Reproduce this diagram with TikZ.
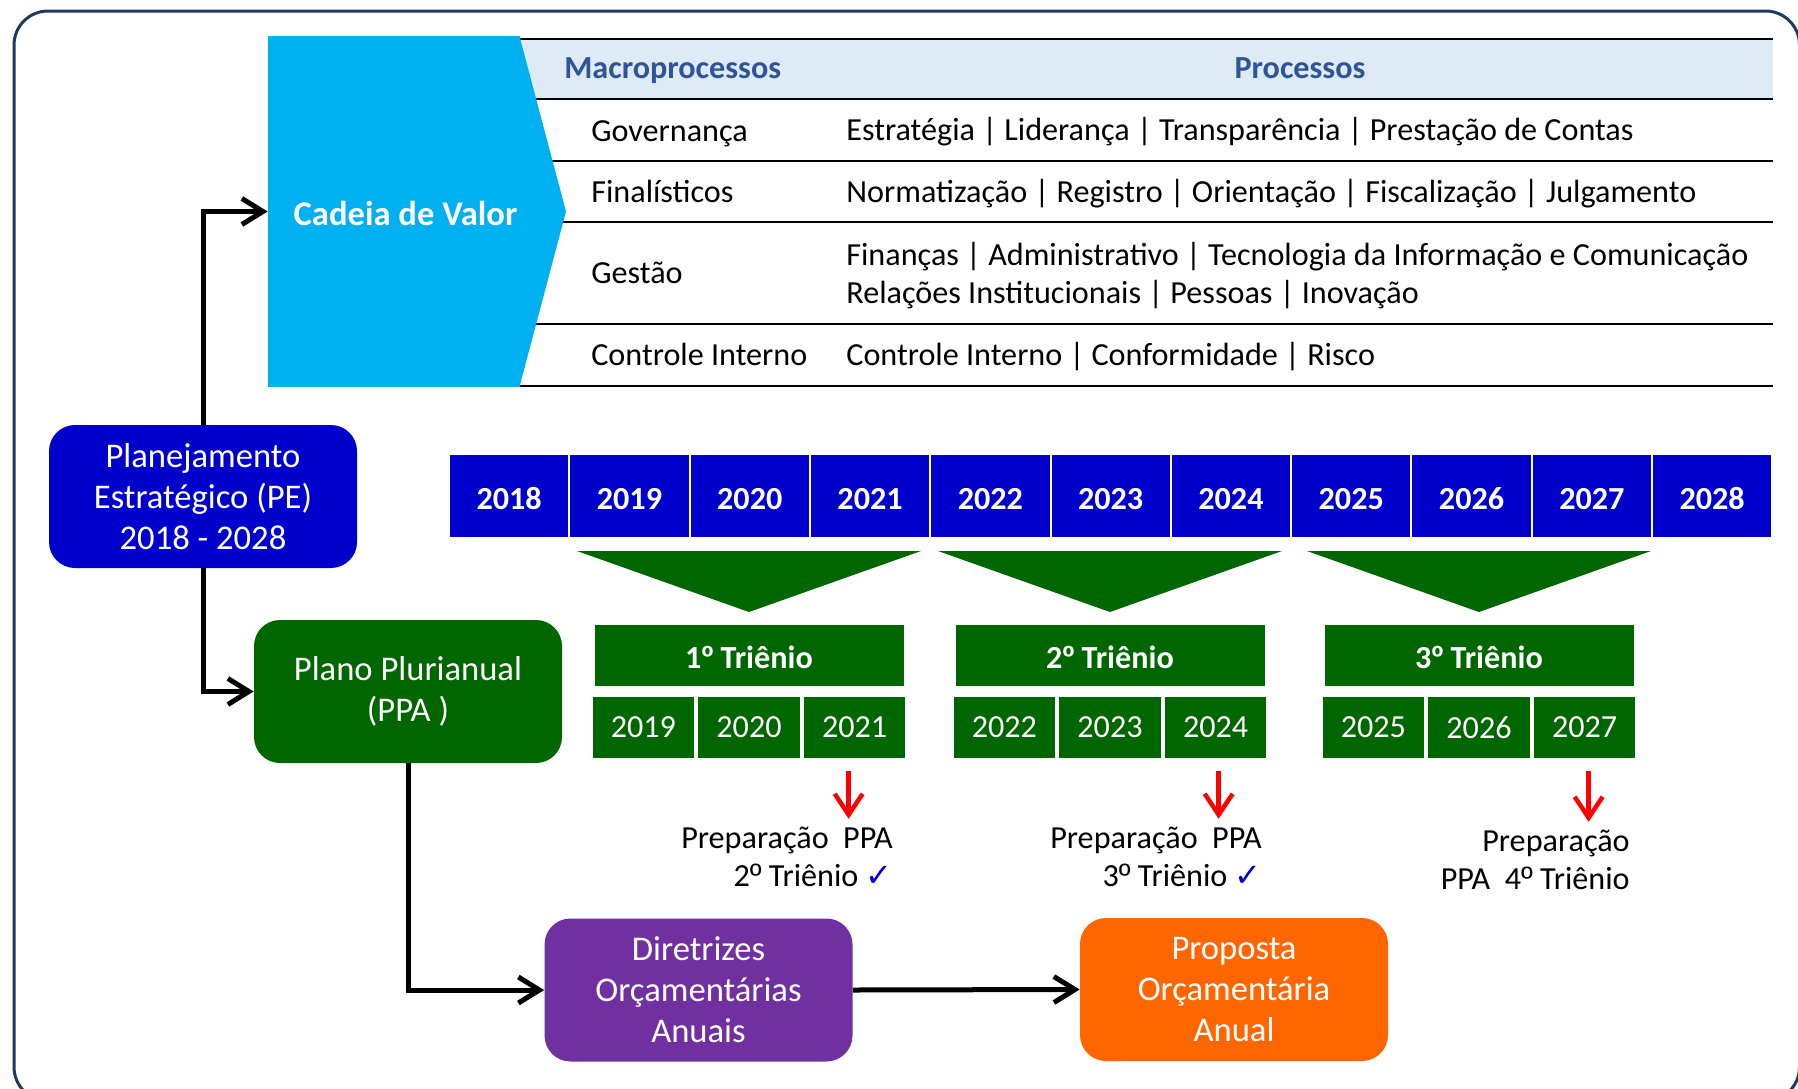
\documentclass[tikz,border=0pt]{standalone}
\usepackage{fontspec}
\setmainfont{Carlito}
\newfontfamily\symfont{DejaVu Sans}
\newfontfamily\ordfont{Liberation Sans}
\usepackage{tikz}
\usetikzlibrary{arrows.meta, positioning}
\definecolor{frameblue}{RGB}{31,56,100}
\definecolor{cadeiablue}{RGB}{0,176,240}
\definecolor{hdrfill}{RGB}{222,234,246}
\definecolor{hdrtext}{RGB}{47,85,151}
\definecolor{peblue}{RGB}{0,0,204}
\definecolor{ppagreen}{RGB}{0,102,0}
\definecolor{ldopurple}{RGB}{112,48,160}
\definecolor{loaorange}{RGB}{255,102,0}
\newcommand{\txtS}{\fontsize{18.3}{21.6}\selectfont}
\newcommand{\txtL}{\fontsize{19.7}{23.3}\selectfont}
\newcommand{\okmark}{{\symfont\color{peblue}✓}}
\newcommand{\ord}{{\ordfont º}}

\begin{document}
\begin{tikzpicture}[
    box/.style={rounded corners=0.52cm, minimum width=6.16cm, minimum height=2.86cm, align=center, text=white, font=\txtL, inner sep=0pt},
    yearcell/.style={fill=peblue, draw=white, line width=0.04cm, minimum width=2.406cm, minimum height=1.68cm, text=white, font=\txtS\bfseries, inner sep=0pt, text height=0.52cm, text depth=0cm},
    trihead/.style={fill=ppagreen, draw=white, line width=0.04cm, minimum width=6.22cm, minimum height=1.26cm, text=white, font=\txtS\bfseries, inner sep=0pt, text height=0.5cm, text depth=0cm},
    tricell/.style={fill=ppagreen, draw=white, line width=0.04cm, minimum width=2.073cm, minimum height=1.26cm, text=white, font=\txtS, inner sep=0pt},
    rowtext/.style={anchor=base west, font=\txtS, align=left, inner sep=0pt},
    prep/.style={anchor=east, font=\txtS, align=right, inner sep=0pt},
    tblline/.style={line width=0.05cm},
    arrow/.style={-{Straight Barb[length=0.42cm, width=0.52cm]}, line width=0.1cm},
    redarrow/.style={-{Straight Barb[length=0.42cm, width=0.56cm]}, line width=0.09cm, red}
]
    \useasboundingbox (0,0) rectangle (35.96,-21.76);

    % moldura
    \draw[frameblue, line width=0.06cm, rounded corners=0.68cm] (0.28,-0.22) rectangle (35.99,-22.02);

    % tabela de macroprocessos
    \fill[hdrfill] (10.0,-0.78) rectangle (35.46,-1.98);
    \foreach \y in {-0.78,-1.98,-3.22,-4.44,-6.48,-7.72}
        \draw[tblline] (10.0,\y) -- (35.46,\y);

    % cadeia de valor
    \node[fill=cadeiablue, minimum width=5.04cm, minimum height=7.02cm, inner sep=0pt, text=white, font=\txtL\bfseries, text height=0.56cm] (cadeia) at (7.88,-4.23) {\hspace*{0.46cm}Cadeia de Valor};
    \fill[cadeiablue] ([xshift=-0.02cm]cadeia.north east) -- (11.32,-4.23) -- ([xshift=-0.02cm]cadeia.south east) -- cycle;

    \node[rowtext, font=\txtS\bfseries, text=hdrtext] (macro) at (11.28,-1.56) {Macroprocessos};
    \node[anchor=base, font=\txtS\bfseries, text=hdrtext, inner sep=0pt] (proc) at (26.0,-1.56) {Processos};

    \node[rowtext] (gov) at (11.82,-2.82) {Governança};
    \node[rowtext] (govp) at (16.92,-2.80) {Estratégia | Liderança | Transparência | Prestação de Contas};
    \node[rowtext] (fin) at (11.82,-4.04) {Finalísticos};
    \node[rowtext] (finp) at (16.92,-4.04) {Normatização | Registro | Orientação | Fiscalização | Julgamento};
    \node[rowtext] (ges) at (11.82,-5.66) {Gestão};
    \node[rowtext, anchor=west] (gesp) at (16.92,-5.51) {Finanças | Administrativo | Tecnologia da Informação e Comunicação\\Relações Institucionais | Pessoas | Inovação};
    \node[rowtext] (ctl) at (11.82,-7.30) {Controle Interno};
    \node[rowtext] (ctlp) at (16.92,-7.30) {Controle Interno | Conformidade | Risco};

    % caixas principais
    \node[box, fill=peblue] (pe) at (4.06,-9.93) {Planejamento\\Estratégico (PE)\\2018 - 2028};
    \node[box, fill=ppagreen] (ppa) at (8.16,-13.83) {Plano Plurianual\\(PPA )};
    \node[box, fill=ldopurple] (ldo) at (13.97,-19.80) {Diretrizes\\Orçamentárias\\Anuais};
    \node[box, fill=loaorange] (loa) at (24.68,-19.79) {Proposta\\Orçamentária\\Anual};

    % linha dos anos
    \foreach \yr [count=\i from 0] in {2018,...,2028}
        \node[yearcell] (y\yr) at (10.183+2.406*\i, -9.92) {\yr};

    % triênios
    \foreach \tn/\cx/\ya/\yb/\yc in {1/14.98/2019/2020/2021, 2/22.20/2022/2023/2024, 3/29.58/2025/2026/2027} {
        \fill[ppagreen] (\cx-3.44,-11.02) -- (\cx+3.44,-11.02) -- (\cx,-12.24) -- cycle;
        \node[trihead] (tri\tn) at (\cx,-13.11) {{\tn}\ord{} Triênio};
        \node[tricell, below=0.14cm of tri\tn] (c\tn2) {\yb};
        \node[tricell, left=0pt of c\tn2] (c\tn1) {\ya};
        \node[tricell, right=0pt of c\tn2] (c\tn3) {\yc};
    }

    % preparação
    \node[prep] (prep1) at (17.86,-17.13) {Preparação~~PPA\\2\ord{} Triênio \okmark};
    \node[prep] (prep2) at (25.24,-17.13) {Preparação~~PPA\\3\ord{} Triênio \okmark};
    \node[prep] (prep3) at (32.60,-17.19) {Preparação\\PPA~~4\ord{} Triênio};
    \foreach \tn/\dx in {1/-0.12, 2/0.06, 3/0.08}
        \draw[redarrow] ([xshift=\dx cm, yshift=-0.22cm]c\tn3.south) -- ([xshift=\dx cm, yshift=0.15cm]c\tn3.south |- prep\tn.north);

    % ligações
    \draw[arrow] (pe.north) |- (cadeia.west);
    \draw[arrow] (pe.south) |- (ppa.west);
    \draw[arrow] (ppa.south) |- (ldo.west);
    \draw[arrow] (ldo.east) -- (loa.west);
\end{tikzpicture}
\end{document}
